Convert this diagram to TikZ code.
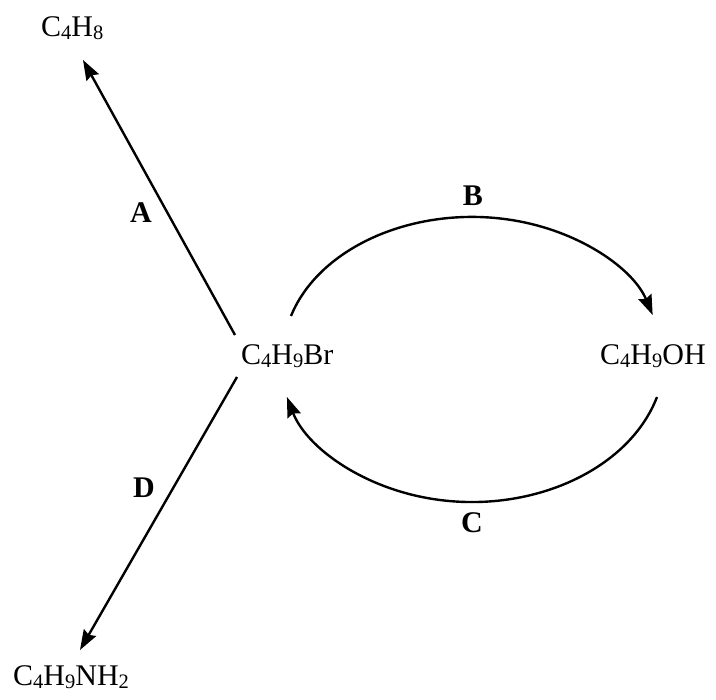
\documentclass[tikz,border=0pt]{standalone}
\usepackage{fontspec}
\setmainfont{Liberation Serif}
\usetikzlibrary{arrows.meta}
\newcommand\sbs[1]{\raisebox{-3pt}{\fontsize{20.5}{20.5}\selectfont #1}}
\begin{document}
\begin{tikzpicture}[x=1pt,y=-1pt,
  chem/.style={inner sep=0pt,anchor=base west,font=\fontsize{30}{34}\selectfont},
  lbl/.style={inner sep=0pt,anchor=base,font=\fontsize{30}{34}\selectfont\bfseries},
  conn/.style={line width=2.4pt,-{Stealth[length=20pt,width=14pt,inset=2.5pt]}}]
\useasboundingbox (0,0) rectangle (716,700);
\node[chem] (c4h8) at (41,37) {C\sbs{4}H\sbs{8}};
\node[chem] (br) at (241,365) {C\sbs{4}H\sbs{9}Br};
\node[chem] (oh) at (600,365) {C\sbs{4}H\sbs{9}OH};
\node[chem] (nh2) at (13,686) {C\sbs{4}H\sbs{9}NH\sbs{2}};
\coordinate (a0) at (235,335);
\coordinate (a1) at (83,60);
\coordinate (d0) at (237,377);
\coordinate (d1) at (80,650);
\coordinate (b0) at (291,316);
\coordinate (c0) at (657,397);
\draw[conn] (a0) -- (a1);
\draw[conn] (d0) -- (d1);
\draw[conn] (b0) arc[start angle=196.7, end angle=342.9, x radius=189, y radius=139];
\draw[conn] (c0) arc[start angle=16.3, end angle=163.7, x radius=192.8, y radius=146];
\node[lbl] (la) at (141,223) {A};
\node[lbl] (lb) at (473,206) {B};
\node[lbl] (lc) at (472,533) {C};
\node[lbl] (ld) at (144,498) {D};
\end{tikzpicture}
\end{document}
